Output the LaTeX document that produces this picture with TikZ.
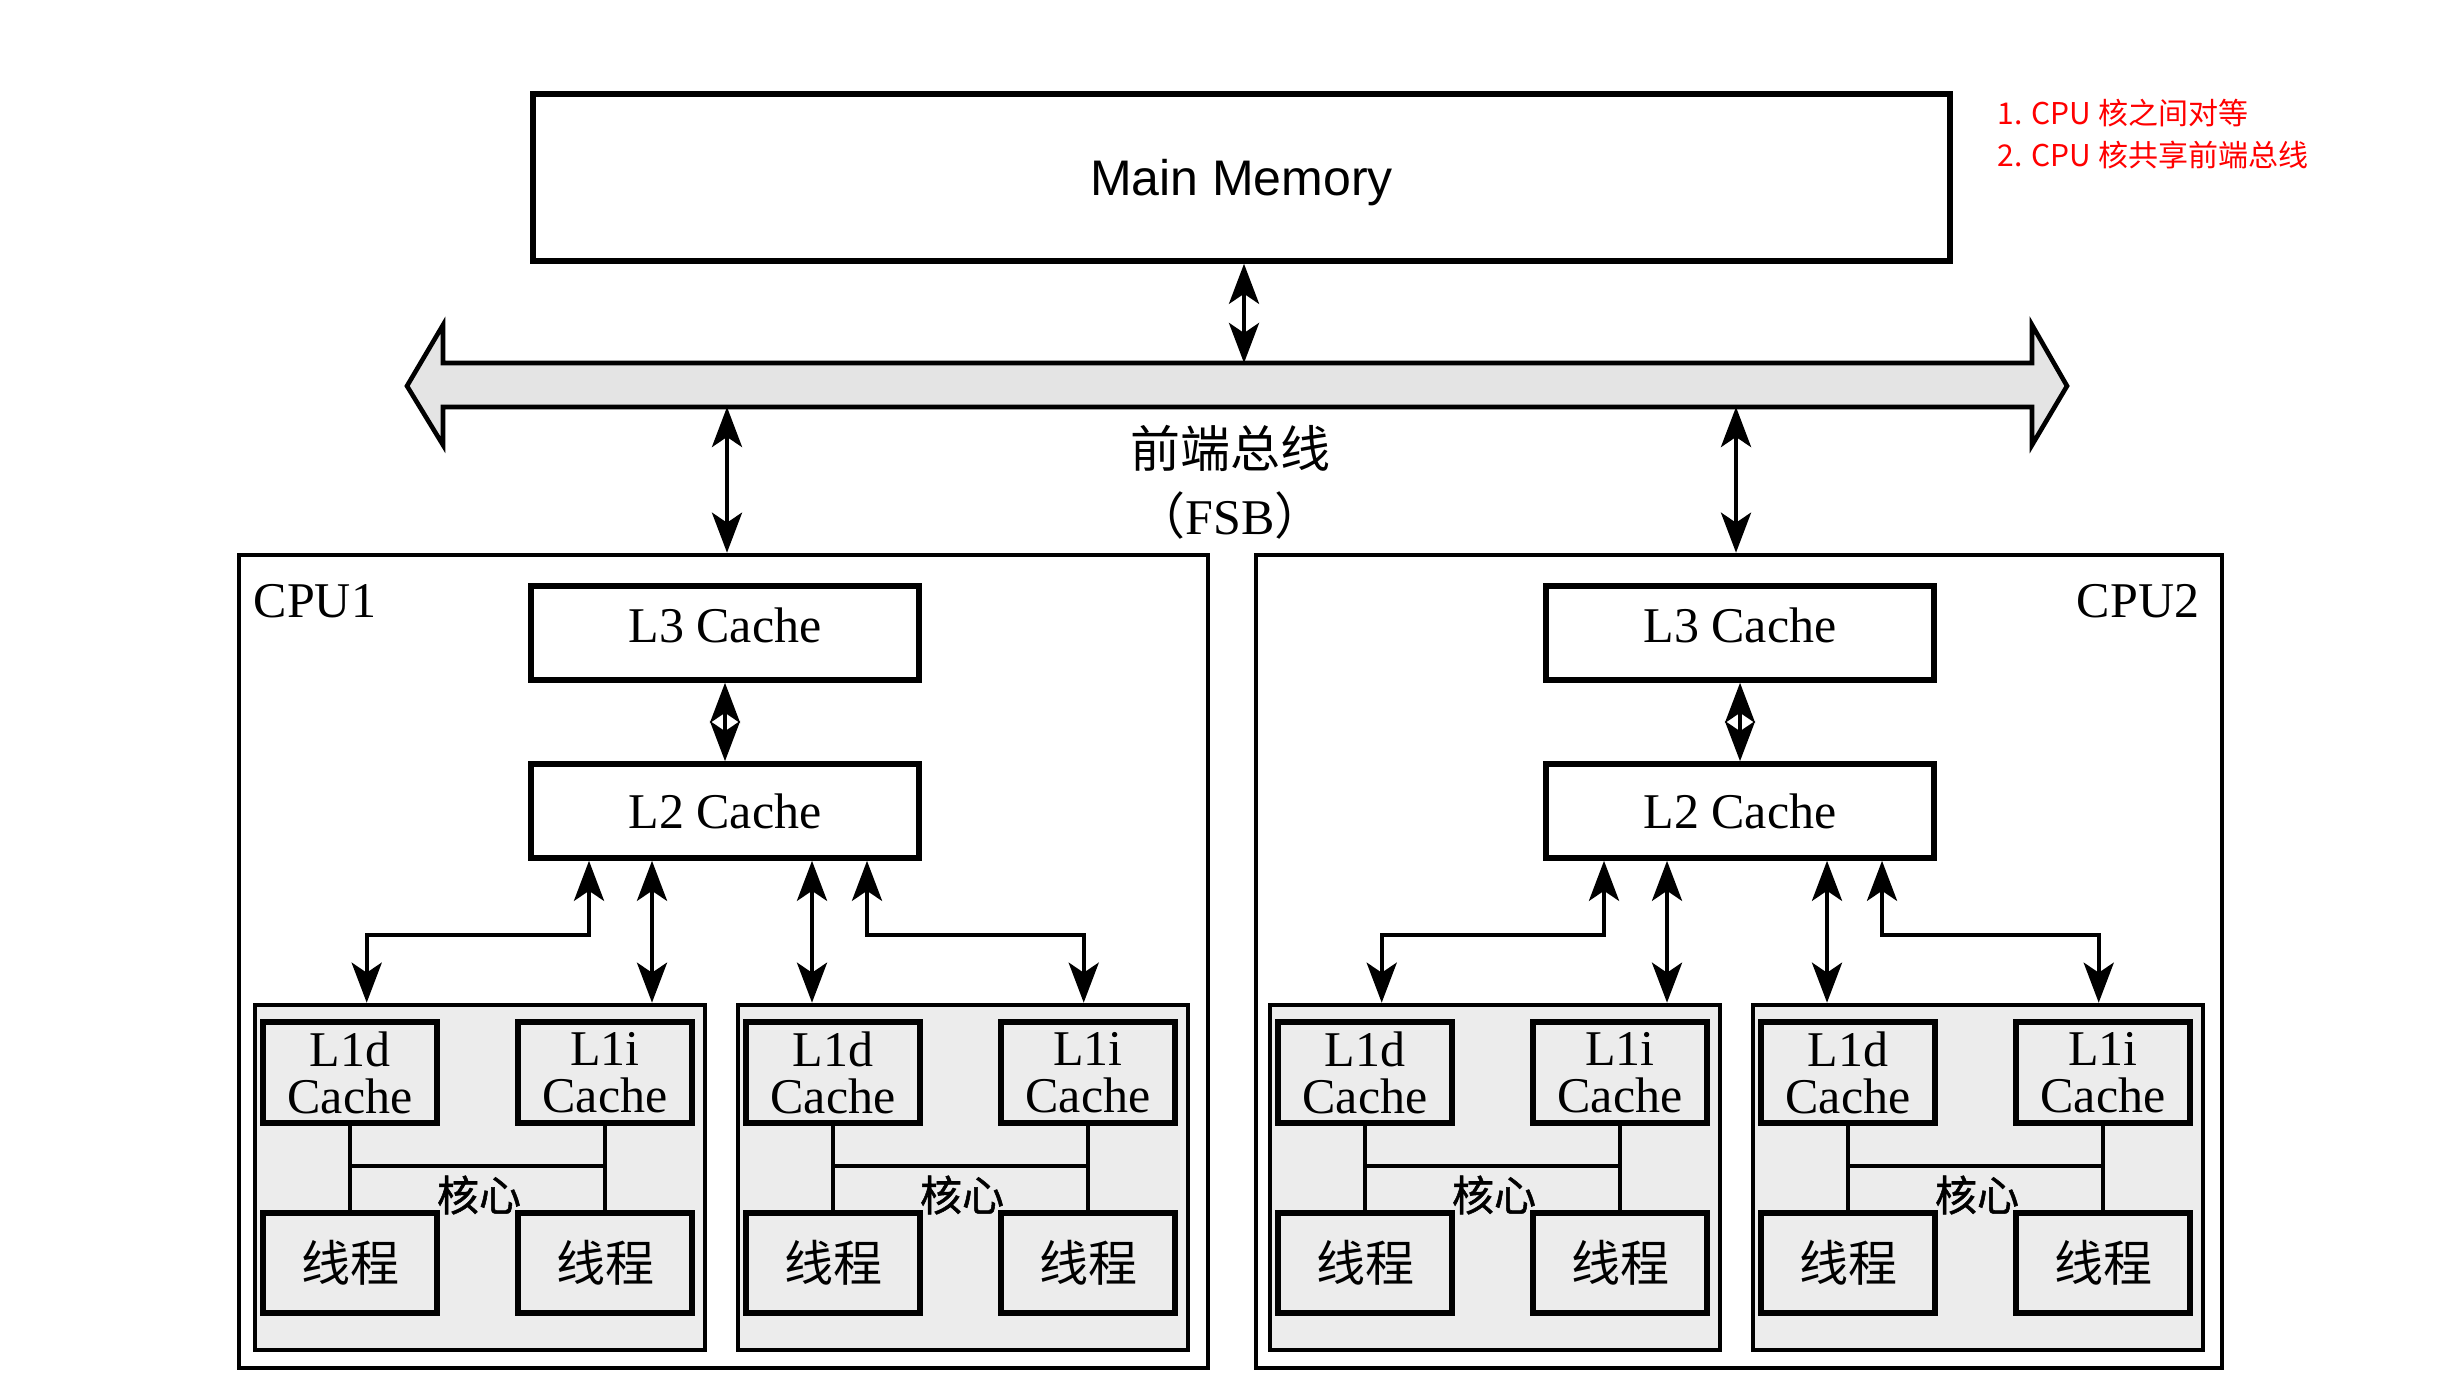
\documentclass[tikz,border=0pt]{standalone}
\usepackage{fontspec}
\setmainfont{Liberation Serif}
\newfontfamily\sansf{Liberation Sans}
\newfontfamily\cjk{Noto Sans CJK SC}
\newfontfamily\cjkb[FakeBold=1.2]{Noto Sans CJK SC}
\usetikzlibrary{arrows.meta,calc}
\definecolor{busgray}{RGB}{228,228,228}
\definecolor{coregray}{RGB}{236,236,236}
\definecolor{notered}{RGB}{255,0,0}
\begin{document}
\begin{tikzpicture}[x=0.25pt,y=-0.25pt,
  font=\fontsize{12.5}{11.75}\selectfont,
  cachebox/.style={draw, line width=1.4pt, rectangle, inner sep=0pt, fill=white},
  cpubox/.style={draw, line width=1.15pt, rectangle, inner sep=0pt},
  corebox/.style={draw, line width=1.15pt, rectangle, inner sep=0pt, fill=coregray, minimum width=112.5pt, minimum height=86.25pt},
  l1box/.style={draw, line width=1.4pt, rectangle, inner sep=0pt, align=center, minimum width=43.5pt, minimum height=25.25pt},
  thbox/.style={draw, line width=1.5pt, rectangle, inner sep=0pt, minimum width=43.5pt, minimum height=25pt, font=\cjk\fontsize{12.25}{14}\selectfont},
  dbl/.style={{Stealth[length=10pt,width=7.5pt,inset=2.5pt]}-{Stealth[length=10pt,width=7.5pt,inset=2.5pt]}, line width=1.1pt},
  conn/.style={line width=0.95pt},
  corelbl/.style={font=\cjkb\fontsize{10.5}{12}\selectfont, inner sep=0pt},
  note/.style={anchor=west, inner sep=0pt, text=notered, font=\cjk\fontsize{7.5}{9}\selectfont}
]
\fill[white] (0,0) rectangle (2448,1388);
\useasboundingbox (0,0) rectangle (2448,1388);

% main memory
\node[cachebox, line width=1.4pt, minimum width=354.25pt, minimum height=41.75pt,
      font=\sansf\fontsize{12.5}{14}\selectfont, text depth=0pt] (mm) at (1241.5,177.5) {Main Memory};

% notes
\node[note] (n1) at (1997,113) {1. CPU 核之间对等};
\node[note] (n2) at (1997,155) {2. CPU 核共享前端总线};

% bus
\draw[line width=1.15pt, fill=busgray, line join=miter]
  (407,386) -- (443,325) -- (443,363) -- (2032,363) -- (2032,325) -- (2067,386)
  -- (2032,445) -- (2032,407) -- (443,407) -- (443,445) -- cycle;
\coordinate (busT) at (1244,363);
\coordinate (busBa) at (727,407);
\coordinate (busBb) at (1736,407);
\node[font=\cjk\fontsize{12.5}{14}\selectfont, inner sep=0pt] (buslbl) at (1230,448) {前端总线};
\node[inner sep=0pt] (fsb) at (1230,516) {{\cjk （}FSB{\cjk ）}};

% CPU boxes
\node[cpubox, minimum width=242.25pt, minimum height=203.25pt] (cpu1) at (723.5,961.5) {};
\node[cpubox, minimum width=241.5pt, minimum height=203.25pt] (cpu2) at (1739,961.5) {};
\node[anchor=west, inner sep=0pt] (cpu1lbl) at (253,601) {CPU1};
\node[anchor=east, inner sep=0pt] (cpu2lbl) at (2200,601) {CPU2};

% caches L3/L2
\node[cachebox, minimum width=97pt, minimum height=23.5pt, text height=0.7em, text depth=0.21em] (l3a) at (725,633) {L3 Cache};
\node[cachebox, minimum width=97pt, minimum height=23.5pt] (l2a) at (725,811) {L2 Cache};
\node[cachebox, minimum width=97pt, minimum height=23.5pt, text height=0.7em, text depth=0.21em] (l3b) at (1740,633) {L3 Cache};
\node[cachebox, minimum width=97pt, minimum height=23.5pt] (l2b) at (1740,811) {L2 Cache};

% cores
\foreach \n/\L in {1/255, 2/738, 3/1270, 4/1753}{
  \node[corebox] (c\n) at (\L+225,1177.5) {};
  \node[l1box] (d\n) at (\L+95,1072.5) {L1d\\Cache};
  \node[l1box] (i\n) at (\L+350,1072.5) {L1i\\Cache};
  \node[thbox] (t\n) at (\L+95,1263) {线程};
  \node[thbox] (u\n) at (\L+350,1263) {线程};
  \draw[conn] (d\n.south) -- (t\n.north);
  \draw[conn] (i\n.south) -- (u\n.north);
  \draw[conn] ($(d\n.south)+(0,40)$) -- ($(i\n.south)+(0,40)$);
  \node[corelbl] (k\n) at (\L+224,1195) {核心};
}

% connectors
\draw[dbl] (busT |- mm.south) -- (busT);
\draw[dbl] (busBa) -- (busBa |- cpu1.north);
\draw[dbl] (busBb) -- (busBb |- cpu2.north);
\draw[dbl] (l3a.south) -- (l2a.north);
\draw[dbl] (l3b.south) -- (l2b.north);

\draw[dbl] ($(l2a.south)+(-136,0)$) -- ++(0,74) -| ($(c1.north west)+(114,0)$);
\draw[dbl] ($(l2a.south)+(-73,0)$) coordinate (a2) -- (a2 |- c1.north);
\draw[dbl] ($(l2a.south)+(87,0)$) coordinate (a3) -- (a3 |- c2.north);
\draw[dbl] ($(l2a.south)+(142,0)$) -- ++(0,74) -| ($(c2.north west)+(348,0)$);

\draw[dbl] ($(l2b.south)+(-136,0)$) -- ++(0,74) -| ($(c3.north west)+(114,0)$);
\draw[dbl] ($(l2b.south)+(-73,0)$) coordinate (b2) -- (b2 |- c3.north);
\draw[dbl] ($(l2b.south)+(87,0)$) coordinate (b3) -- (b3 |- c4.north);
\draw[dbl] ($(l2b.south)+(142,0)$) -- ++(0,74) -| ($(c4.north west)+(348,0)$);
\end{tikzpicture}
\end{document}
